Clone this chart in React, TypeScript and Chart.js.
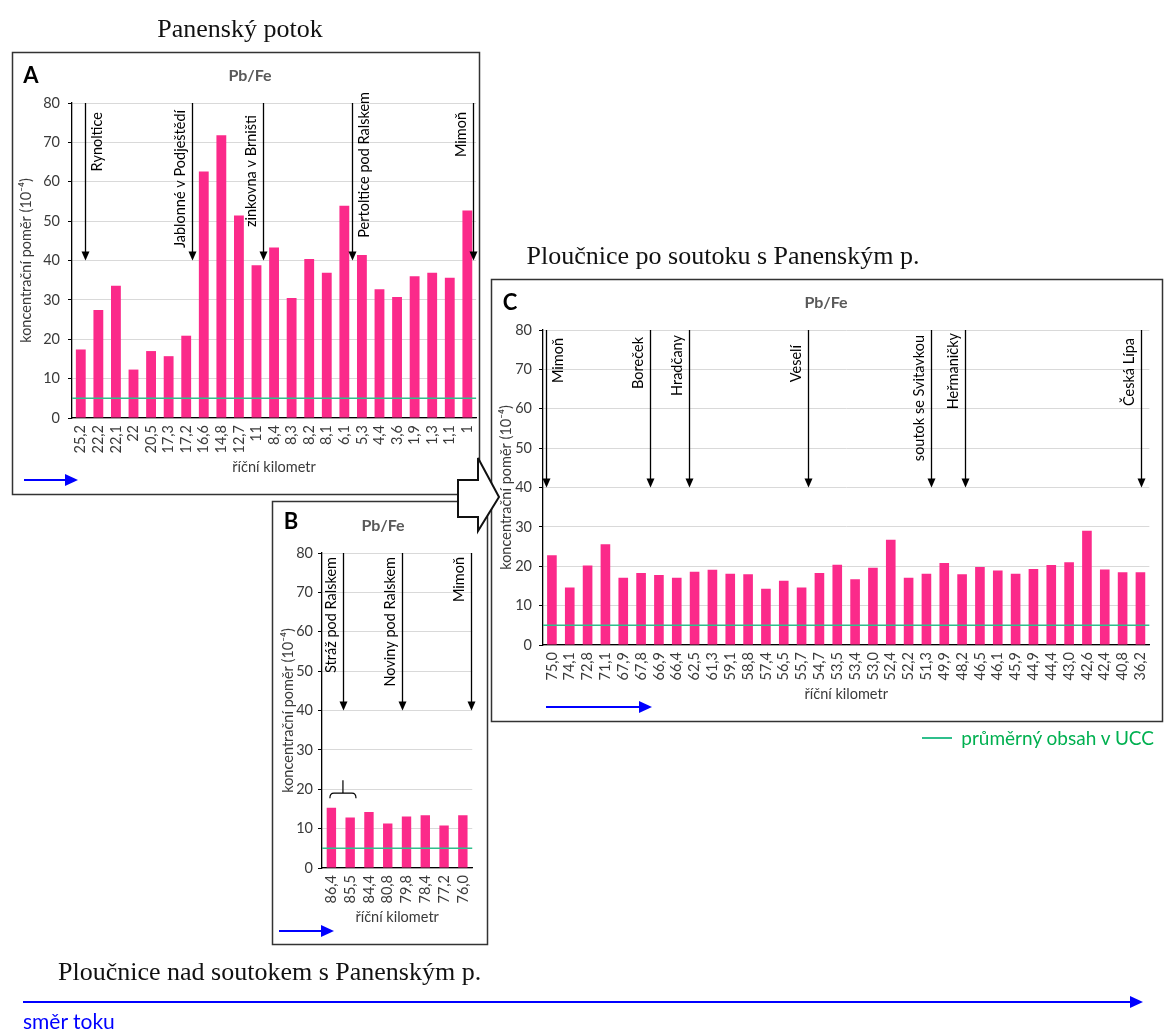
import React, { useEffect, useRef } from "react";
import { Chart, registerables } from "chart.js";
Chart.register(...registerables);

// ---------- DATA ----------
const A_KM = ["25,2","22,2","22,1","22","20,5","17,3","17,2","16,6","14,8","12,7","11","8,4","8,3","8,2","8,1","6,1","5,3","4,4","3,6","1,9","1,3","1,1","1"];
const A_PBFE = [17.4,27.4,33.6,12.3,17.0,15.7,20.9,62.6,71.8,51.4,38.8,43.3,30.5,40.4,36.9,53.9,41.4,32.7,30.7,36.0,36.9,35.6,52.7];
const A_SITES = ["Rynoltice","Jablonné v Podještědí","zinkovna v Brništi","Pertoltice pod Ralskem","Mimoň"];
const A_SITE_POS = [0.26,6.32,10.38,15.43,22.3];

const B_KM = ["86,4","85,5","84,4","80,8","79,8","78,4","77,2","76,0"];
const B_PBFE = [15.3,12.8,14.2,11.3,13.1,13.4,10.8,13.4];
const B_SITES = ["Stráž pod Ralskem","Noviny pod Ralskem","Mimoň"];
const B_SITE_POS = [0.6,3.75,7.44];
const B_BRACKET_RANGE = [-0.08,1.31];
const B_BRACKET_LEVEL = 19;
const B_BRACKET_TOP = 22.3;

const C_KM = ["75,0","74,1","72,8","71,1","67,9","67,8","66,9","66,4","62,5","61,3","59,1","58,8","57,4","56,5","55,7","54,7","53,5","53,4","53,0","52,4","52,2","51,3","49,9","48,2","46,5","46,1","45,9","44,9","44,4","43,0","42,6","42,4","40,8","36,2"];
const C_PBFE = [22.8,14.6,20.2,25.6,17.1,18.3,17.8,17.1,18.6,19.1,18.1,18.0,14.3,16.3,14.6,18.3,20.4,16.7,19.6,26.7,17.1,18.1,20.8,18.0,19.8,18.9,18.1,19.3,20.3,21.0,29.0,19.2,18.5,18.5];
const C_SITES = ["Mimoň","Boreček","Hradčany","Veselí","soutok se Svitavkou","Heřmaničky","Česká Lípa"];
const C_SITE_POS = [-0.31,5.52,7.68,14.35,21.23,23.14,33.05];

const UCC_PBFE = 5;
const Y_MIN = 0;
const Y_MAX = 80;
const Y_STEP = 10;
const ARROW_FROM = 80;
const ARROW_TO = 40;

const Y_TITLE = "koncentrační poměr (10⁻⁴)";
const X_TITLE = "říční kilometr";
const CHART_TITLE = "Pb/Fe";
const UCC_LABEL = "průměrný obsah v UCC";

// ---------- STYLE ----------
const BAR_COLOR = "#fb2a8a";
const UCC_COLOR = "#2fbf8c";
const AXIS_TEXT = "#3a3a3a";
const FONT = "Lato, 'Open Sans', sans-serif";
const SERIF = "'Liberation Serif', 'DejaVu Serif', serif";
const BLUE = "#0000ff";
const FS = 14.5;

type PanelCfg = {
  left: number; top: number; width: number; height: number; padRight: number;
  labels: string[]; values: number[];
  sites: string[]; sitePos: number[]; siteSide: number[]; siteDy: number[];
  barFrac: number; yTitlePad: number; yTickPad: number;
  bracket?: { range: number[]; level: number; top: number };
};

function makeAnnot(cfg: PanelCfg) {
  return {
    id: "annot",
    afterDatasetsDraw(chart: any) {
      const { ctx, chartArea: ca } = chart;
      const xs = chart.scales.x, ys = chart.scales.y;
      ctx.save();
      const yU = ys.getPixelForValue(UCC_PBFE);
      ctx.strokeStyle = UCC_COLOR; ctx.lineWidth = 1.6;
      ctx.beginPath(); ctx.moveTo(ca.left, yU); ctx.lineTo(ca.right, yU); ctx.stroke();
      const yTop = ys.getPixelForValue(ARROW_FROM);
      const yTip = ys.getPixelForValue(ARROW_TO);
      ctx.font = `${FS}px ${FONT}`;
      cfg.sites.forEach((name, i) => {
        const px = Math.round(xs.getPixelForValue(cfg.sitePos[i])) + 0.5;
        ctx.strokeStyle = "#000"; ctx.lineWidth = 1.3;
        ctx.beginPath(); ctx.moveTo(px, yTop); ctx.lineTo(px, yTip - 6); ctx.stroke();
        ctx.fillStyle = "#000";
        ctx.beginPath(); ctx.moveTo(px - 4, yTip - 9); ctx.lineTo(px + 4, yTip - 9); ctx.lineTo(px, yTip); ctx.closePath(); ctx.fill();
        ctx.save();
        ctx.translate(px + cfg.siteSide[i] * 12, yTop + cfg.siteDy[i]);
        ctx.rotate(-Math.PI / 2);
        ctx.textAlign = "right"; ctx.textBaseline = "middle";
        ctx.fillText(name, 0, 0);
        ctx.restore();
      });
      if (cfg.bracket) {
        const x0 = xs.getPixelForValue(cfg.bracket.range[0]);
        const x1 = xs.getPixelForValue(cfg.bracket.range[1]);
        const xm = (x0 + x1) / 2;
        const yl = ys.getPixelForValue(cfg.bracket.level);
        const yu = ys.getPixelForValue(cfg.bracket.top);
        ctx.strokeStyle = "#000"; ctx.lineWidth = 1.2;
        ctx.beginPath();
        ctx.moveTo(x0, yl + 5);
        ctx.quadraticCurveTo(x0, yl, x0 + 4, yl);
        ctx.lineTo(x1 - 4, yl);
        ctx.quadraticCurveTo(x1, yl, x1, yl + 5);
        ctx.moveTo(xm, yl); ctx.lineTo(xm, yu);
        ctx.stroke();
      }
      ctx.restore();
    },
  };
}

function Panel({ cfg }: { cfg: PanelCfg }) {
  const ref = useRef<HTMLCanvasElement>(null);
  useEffect(() => {
    if (!ref.current) return;
    const font = { family: FONT, size: FS };
    const chart = new Chart(ref.current, {
      type: "bar",
      data: {
        labels: cfg.labels,
        datasets: [{ data: cfg.values, backgroundColor: BAR_COLOR, borderWidth: 0, barPercentage: cfg.barFrac, categoryPercentage: 1 }],
      },
      options: {
        responsive: false,
        animation: false,
        devicePixelRatio: 1,
        layout: { padding: { left: 0, top: 51, right: cfg.padRight, bottom: 10 } },
        plugins: { legend: { display: false }, tooltip: { enabled: false }, title: { display: false } },
        scales: {
          x: {
            grid: { display: false, drawTicks: false },
            border: { display: true, color: "#000", width: 1.3 },
            ticks: { autoSkip: false, minRotation: 90, maxRotation: 90, padding: 7, color: AXIS_TEXT, font },
            title: { display: true, text: X_TITLE, color: AXIS_TEXT, font, padding: { top: 0, bottom: 2 } },
            afterFit: (s: any) => { s.height = 60; },
          },
          y: {
            min: Y_MIN, max: Y_MAX,
            ticks: { stepSize: Y_STEP, padding: cfg.yTickPad, color: AXIS_TEXT, font },
            grid: { color: "#d9d9d9", lineWidth: 1, drawTicks: true, tickLength: 4, tickColor: "#000" },
            border: { display: true, color: "#000", width: 1.3 },
            title: { display: true, text: Y_TITLE, color: AXIS_TEXT, font, padding: { top: cfg.yTitlePad, bottom: 0 } },
            afterFit: (s: any) => { s.width = 60; },
          },
        },
      } as any,
      plugins: [makeAnnot(cfg) as any],
    });
    return () => chart.destroy();
  }, [cfg]);
  return (
    <canvas ref={ref} width={cfg.width} height={cfg.height}
      style={{ position: "absolute", left: cfg.left, top: cfg.top, width: cfg.width, height: cfg.height }} />
  );
}

const PANEL_A: PanelCfg = {
  left: 12, top: 52, width: 480, height: 436, padRight: 12,
  labels: A_KM, values: A_PBFE, sites: A_SITES, sitePos: A_SITE_POS,
  siteSide: [1, -1, -1, 1, -1], siteDy: [9, 7, 12, -11, 9],
  barFrac: 0.56, yTitlePad: 6, yTickPad: 8,
};
const PANEL_B: PanelCfg = {
  left: 262, top: 502, width: 226, height: 436, padRight: 12,
  labels: B_KM, values: B_PBFE, sites: B_SITES, sitePos: B_SITE_POS,
  siteSide: [-1, -1, -1], siteDy: [4, 4, 4],
  barFrac: 0.5, yTitlePad: 18, yTickPad: 5,
  bracket: { range: B_BRACKET_RANGE, level: B_BRACKET_LEVEL, top: B_BRACKET_TOP },
};
const PANEL_C: PanelCfg = {
  left: 483, top: 279, width: 682, height: 436, padRight: 11,
  labels: C_KM, values: C_PBFE, sites: C_SITES, sitePos: C_SITE_POS,
  siteSide: [1, -1, -1, -1, -1, -1, -1], siteDy: [8, 7, 5, 15, 5, 3, 8],
  barFrac: 0.54, yTitlePad: 15, yTickPad: 7,
};

function Txt({ x, y, children, style }: any) {
  return (
    <div style={{ position: "absolute", left: x, top: y, transform: "translate(-50%,-50%)", whiteSpace: "nowrap", lineHeight: 1, ...style }}>
      {children}
    </div>
  );
}

function BlueArrow({ x1, x2, y }: { x1: number; x2: number; y: number }) {
  return (
    <g>
      <line x1={x1} y1={y} x2={x2 - 10} y2={y} stroke={BLUE} strokeWidth={2} />
      <polygon points={`${x2 - 13},${y - 6} ${x2},${y} ${x2 - 13},${y + 6}`} fill={BLUE} />
    </g>
  );
}

export default function App() {
  const panelLabel = { fontFamily: FONT, fontWeight: 700, fontSize: 22, color: "#000" };
  const chartTitle = { fontFamily: FONT, fontWeight: 700, fontSize: 16, color: "#595959" };
  const sectTitle = { fontFamily: SERIF, fontSize: 26, color: "#111" };
  return (
    <div style={{ position: "absolute", left: 0, top: 0, width: 1165, height: 1032, overflow: "hidden", background: "#fff" }}>
      <svg width={1165} height={1032} style={{ position: "absolute", left: 0, top: 0 }}>
        <rect x={12.5} y={52.5} width={467} height={442} fill="none" stroke="#333" strokeWidth={1.5} />
        <rect x={272.5} y={501.5} width={215} height={443} fill="#fff" stroke="#333" strokeWidth={1.5} />
        <rect x={491.5} y={279.5} width={671} height={442} fill="none" stroke="#333" strokeWidth={1.5} />
      </svg>

      <Panel cfg={PANEL_A} />
      <Panel cfg={PANEL_B} />
      <Panel cfg={PANEL_C} />

      <svg width={1165} height={1032} style={{ position: "absolute", left: 0, top: 0, pointerEvents: "none" }}>
        <polygon points="458,480 478,480 478,458 499,497 478,531 478,517 458,517" fill="#fff" stroke="#111" strokeWidth={2} strokeLinejoin="miter" />
        <BlueArrow x1={24} x2={78} y={480} />
        <BlueArrow x1={279} x2={334} y={931} />
        <BlueArrow x1={546} x2={652} y={707} />
        <BlueArrow x1={23} x2={1143} y={1002} />
        <line x1={922} y1={738} x2={952} y2={738} stroke={UCC_COLOR} strokeWidth={2} />
      </svg>

      <Txt x={240} y={29} style={sectTitle}>Panenský potok</Txt>
      <Txt x={723} y={256} style={sectTitle}>Ploučnice po soutoku s Panenským p.</Txt>
      <div style={{ position: "absolute", left: 58, top: 959, whiteSpace: "nowrap", lineHeight: 1, ...sectTitle }}>Ploučnice nad soutokem s Panenským p.</div>

      <Txt x={31} y={75} style={panelLabel}>A</Txt>
      <Txt x={291} y={521} style={panelLabel}>B</Txt>
      <Txt x={510} y={302} style={panelLabel}>C</Txt>

      <Txt x={250} y={75} style={chartTitle}>{CHART_TITLE}</Txt>
      <Txt x={383} y={525} style={chartTitle}>{CHART_TITLE}</Txt>
      <Txt x={826} y={302} style={chartTitle}>{CHART_TITLE}</Txt>

      <div style={{ position: "absolute", right: 11, top: 728, whiteSpace: "nowrap", lineHeight: 1, fontFamily: FONT, fontSize: 19, color: "#00b050" }}>{UCC_LABEL}</div>
      <div style={{ position: "absolute", left: 23, top: 1010, whiteSpace: "nowrap", lineHeight: 1, fontFamily: FONT, fontSize: 21, color: BLUE }}>směr toku</div>
    </div>
  );
}
